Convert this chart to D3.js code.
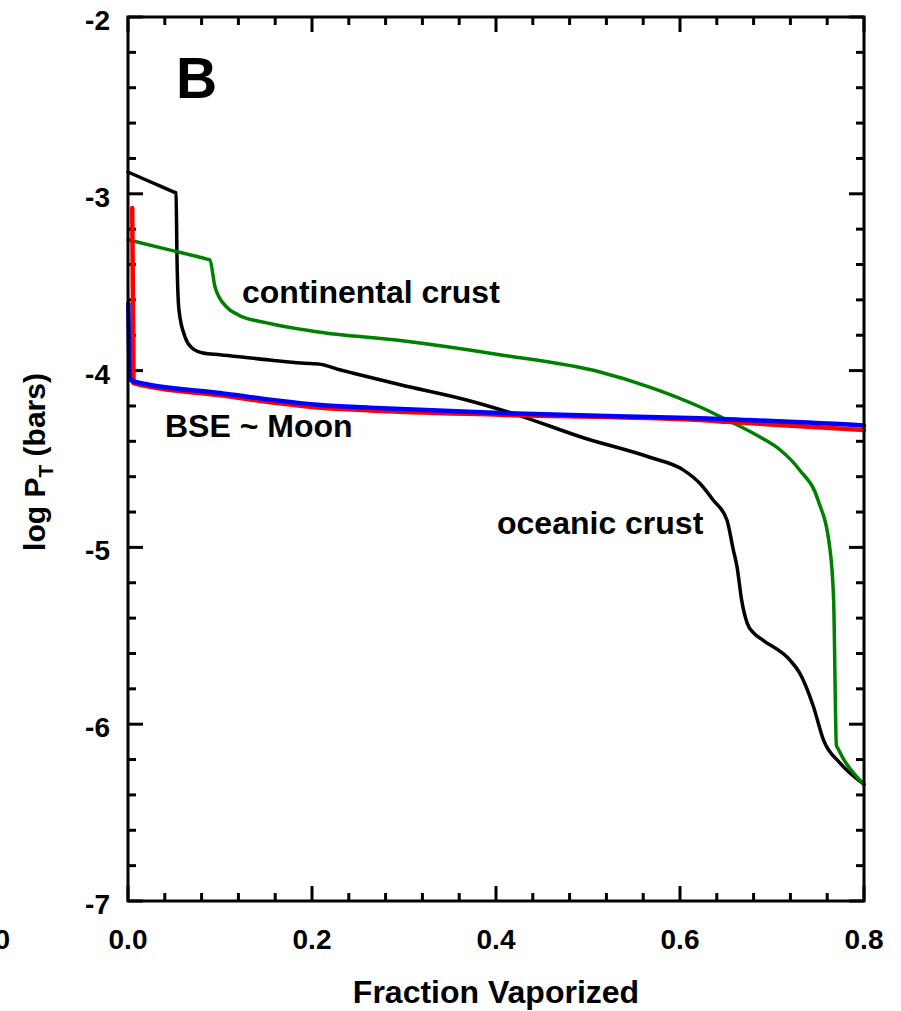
<!DOCTYPE html>
<html lang="en">
<head>
  <meta charset="UTF-8" />
  <title>Fraction Vaporized vs log PT</title>
  <script src="https://d3js.org/d3.v7.min.js"></script>
  <style>
    html, body { margin: 0; padding: 0; background: #fff; }
    svg { display: block; font-family: "Liberation Sans", Arial, sans-serif; font-weight: bold; }
    .frame { fill: none; stroke: #000; stroke-width: 3px; }
    .tick { stroke: #000; stroke-width: 3px; }
    .curve { fill: none; stroke-linejoin: round; stroke-linecap: round; }
  </style>
</head>
<body>
  <svg id="chart" width="901" height="1011"></svg>

  <script>
    const oceanic = [
      [0, -2.877], [0.026, -2.936], [0.05, -2.99], [0.0522, -2.995], [0.0533, -3.374],
      [0.0554, -3.657], [0.062, -3.81], [0.0696, -3.872], [0.0815, -3.90], [0.1, -3.91],
      [0.154, -3.94], [0.198, -3.96], [0.207, -3.962], [0.23, -3.995], [0.245, -4.015],
      [0.296, -4.08], [0.368, -4.166], [0.423, -4.25], [0.495, -4.38], [0.567, -4.49],
      [0.603, -4.56], [0.622, -4.64], [0.636, -4.732], [0.651, -4.845], [0.658, -5.015],
      [0.662, -5.11], [0.667, -5.298], [0.673, -5.428], [0.68, -5.484], [0.69, -5.524],
      [0.72, -5.64], [0.73, -5.71], [0.745, -5.90], [0.756, -6.09], [0.774, -6.22], [0.8, -6.34]
    ];
    const continental = [
      [0, -3.26], [0.045, -3.317], [0.087, -3.371], [0.089, -3.374], [0.0946, -3.527],
      [0.107, -3.64], [0.12, -3.685], [0.151, -3.73], [0.205, -3.78], [0.296, -3.83],
      [0.404, -3.91], [0.513, -4.008], [0.567, -4.093], [0.622, -4.206], [0.651, -4.279],
      [0.687, -4.376], [0.709, -4.449], [0.73, -4.562], [0.75, -4.732], [0.763, -5.01],
      [0.767, -5.30], [0.770, -6.12], [0.772, -6.14], [0.777, -6.19], [0.8, -6.34]
    ];
    const bseRed = [
      [0.0046, -3.08], [0.006, -4.07], [0.1, -4.14], [0.209, -4.21], [0.263, -4.225],
      [0.404, -4.25], [0.622, -4.28], [0.651, -4.29], [0.8, -4.336]
    ];
    const moonBlue = [
      [0.0004, -3.62], [0.002, -4.04], [0.005, -4.06], [0.1, -4.127], [0.209, -4.195],
      [0.263, -4.21], [0.404, -4.24], [0.622, -4.27], [0.651, -4.275], [0.8, -4.31]
    ];

    const xMajor = [0, 0.2, 0.4, 0.6, 0.8];
    const xTickLabels = ['0.0', '0.2', '0.4', '0.6', '0.8'];
    const yMajor = [-2, -3, -4, -5, -6, -7];
    const yTickLabels = ['-2', '-3', '-4', '-5', '-6', '-7'];

    const svg = d3.select('#chart');
    const pL = 128, pR = 864, pT = 17, pB = 901;

    const x = d3.scaleLinear().domain([0, 0.8]).range([pL, pR]);
    const y = d3.scaleLinear().domain([-2, -7]).range([pT, pB]);

    const xMinor = d3.range(0, 0.8001, 0.04);
    const yMinor = d3.range(-2, -7.0001, -0.2);
    const isMajor = (v, step) => Math.abs(v / step - Math.round(v / step)) < 1e-6;

    const g = svg.append('g');

    // ticks on all four sides, pointing inward
    xMinor.forEach(v => {
      const len = isMajor(v, 0.2) ? 15 : 8;
      g.append('line').attr('class', 'tick')
        .attr('x1', x(v)).attr('x2', x(v)).attr('y1', pB).attr('y2', pB - len);
      g.append('line').attr('class', 'tick')
        .attr('x1', x(v)).attr('x2', x(v)).attr('y1', pT).attr('y2', pT + len);
    });
    yMinor.forEach(v => {
      const len = isMajor(v, 1) ? 15 : 8;
      g.append('line').attr('class', 'tick')
        .attr('y1', y(v)).attr('y2', y(v)).attr('x1', pL).attr('x2', pL + len);
      g.append('line').attr('class', 'tick')
        .attr('y1', y(v)).attr('y2', y(v)).attr('x1', pR).attr('x2', pR - len);
    });

    // curves
    const line = d3.line().curve(d3.curveMonotoneX).x(d => x(d[0])).y(d => y(d[1]));
    g.append('path').datum(oceanic).attr('class', 'curve')
      .attr('stroke', '#000').attr('stroke-width', 3.5).attr('d', line);
    g.append('path').datum(continental).attr('class', 'curve')
      .attr('stroke', '#008000').attr('stroke-width', 3.5).attr('d', line);
    g.append('path').datum(bseRed).attr('class', 'curve')
      .attr('stroke', '#ff0000').attr('stroke-width', 4.5).attr('d', line);
    g.append('path').datum(moonBlue).attr('class', 'curve')
      .attr('stroke', '#0000ff').attr('stroke-width', 4.5).attr('d', line);

    g.append('rect').attr('class', 'frame')
      .attr('x', pL).attr('y', pT).attr('width', pR - pL).attr('height', pB - pT);

    // tick labels
    xMajor.forEach((v, i) => {
      g.append('text').attr('x', x(v)).attr('y', 949).attr('text-anchor', 'middle')
        .attr('font-size', 28).text(xTickLabels[i]);
    });
    yMajor.forEach((v, i) => {
      g.append('text').attr('x', 110).attr('y', y(v) + 13).attr('text-anchor', 'end')
        .attr('font-size', 28).text(yTickLabels[i]);
    });
    // leftover from the neighbouring panel, cut off at the edge as in the source
    g.append('text').attr('x', 10).attr('y', 949).attr('text-anchor', 'end')
      .attr('font-size', 28).text('0');

    // axis titles
    g.append('text').attr('x', 496).attr('y', 1003).attr('text-anchor', 'middle')
      .attr('font-size', 32).text('Fraction Vaporized');
    const yl = g.append('text').attr('transform', 'translate(45,462) rotate(-90)')
      .attr('text-anchor', 'middle').attr('font-size', 30);
    yl.append('tspan').text('log P');
    yl.append('tspan').attr('font-size', 21).attr('dy', 8).text('T');
    yl.append('tspan').attr('dy', -8).text(' (bars)');

    // annotations
    g.append('text').attr('x', 176).attr('y', 98).attr('font-size', 57).text('B');
    g.append('text').attr('x', 242).attr('y', 303).attr('font-size', 32).text('continental crust');
    g.append('text').attr('x', 165).attr('y', 437).attr('font-size', 32).text('BSE ~ Moon');
    g.append('text').attr('x', 497).attr('y', 534).attr('font-size', 32).text('oceanic crust');
  </script>
</body>
</html>
